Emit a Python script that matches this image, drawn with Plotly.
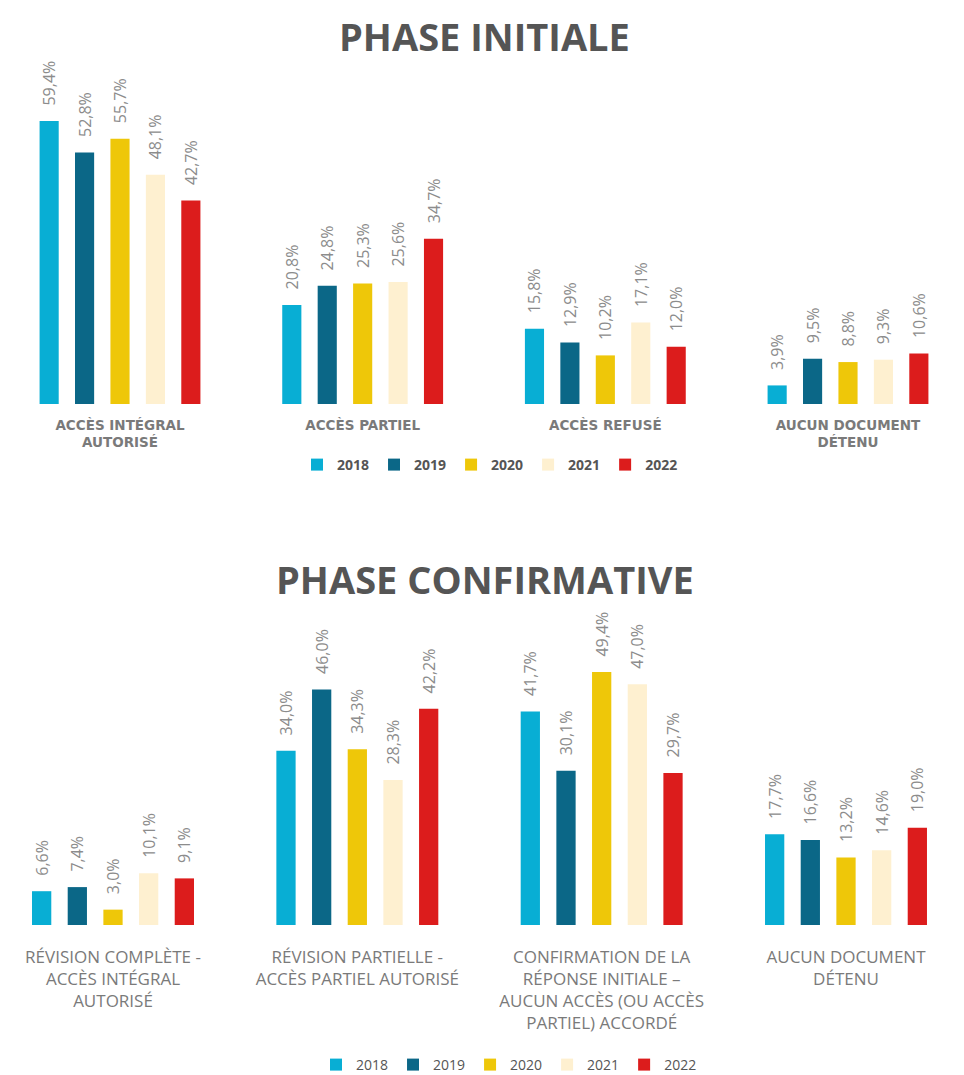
import plotly.graph_objects as go

years = ["2018", "2019", "2020", "2021", "2022"]
colors = ["#08AED4", "#0B6787", "#EEC709", "#FEF0D0", "#DC1C1C"]

cat_init = ["ACCÈS INTÉGRAL<br>AUTORISÉ", "ACCÈS PARTIEL", "ACCÈS REFUSÉ", "AUCUN DOCUMENT<br>DÉTENU"]
vals_init = {
    "2018": [59.4, 20.8, 15.8, 3.9],
    "2019": [52.8, 24.8, 12.9, 9.5],
    "2020": [55.7, 25.3, 10.2, 8.8],
    "2021": [48.1, 25.6, 17.1, 9.3],
    "2022": [42.7, 34.7, 12.0, 10.6],
}

cat_conf = ["RÉVISION COMPLÈTE -<br>ACCÈS INTÉGRAL<br>AUTORISÉ",
            "RÉVISION PARTIELLE -<br>ACCÈS PARTIEL AUTORISÉ",
            "CONFIRMATION DE LA<br>RÉPONSE INITIALE –<br>AUCUN ACCÈS (OU ACCÈS<br>PARTIEL) ACCORDÉ",
            "AUCUN DOCUMENT<br>DÉTENU"]
vals_conf = {
    "2018": [6.6, 34.0, 41.7, 17.7],
    "2019": [7.4, 46.0, 30.1, 16.6],
    "2020": [3.0, 34.3, 49.4, 13.2],
    "2021": [10.1, 28.3, 47.0, 14.6],
    "2022": [9.1, 42.2, 29.7, 19.0],
}

W, H = 964, 1075
OFF = 8  # page body margin

def fmt(v):
    return "\u00a0\u00a0\u00a0" + f"{v:.1f}".replace(".", ",") + "%"

fig = go.Figure()
for yr, col in zip(years, colors):
    fig.add_trace(go.Bar(
        x=cat_init, y=vals_init[yr], name=yr, marker=dict(color=col, line=dict(width=0)),
        text=[fmt(v) for v in vals_init[yr]], textposition="outside", textangle=-90,
        constraintext="none", cliponaxis=False,
        textfont=dict(family="Open Sans", size=16, color="#8c8c8c"),
        xaxis="x", yaxis="y", legend="legend", offsetgroup=yr,
    ))
for yr, col in zip(years, colors):
    fig.add_trace(go.Bar(
        x=cat_conf, y=vals_conf[yr], name=yr, marker=dict(color=col, line=dict(width=0)),
        text=[fmt(v) for v in vals_conf[yr]], textposition="outside", textangle=-90,
        constraintext="none", cliponaxis=False,
        textfont=dict(family="Open Sans", size=16, color="#8c8c8c"),
        xaxis="x2", yaxis="y2", legend="legend2", offsetgroup=yr,
    ))

def py(pix):
    return 1 - (pix - OFF) / H

def px_(pix):
    return (pix - OFF) / W

top_base, top_top = 404, 50
bot_base, bot_top = 925, 600
top_scale = (404 - 121) / 59.4
bot_scale = (925 - 672) / 49.4

def xrange(c0, c3):
    unit = (c3 - c0) / 3
    lo = -(c0 - OFF) / unit
    return [lo, lo + W / unit]

fig.update_layout(
    width=W, height=H,
    margin=dict(l=0, r=0, t=0, b=0, autoexpand=False),
    paper_bgcolor="white", plot_bgcolor="white",
    barmode="group", bargap=0.27, bargroupgap=0.46,
    xaxis=dict(domain=[0, 1], anchor="y", showline=False, showgrid=False, ticks="",
               automargin=False, range=xrange(120, 848),
               tickfont=dict(family="DejaVu Sans", size=13.5, color="#7a7a7a", weight="bold"),
               ticklabelstandoff=11),
    yaxis=dict(domain=[py(top_base), py(top_top)], range=[0, (top_base - top_top) / top_scale],
               visible=False, showgrid=False, zeroline=False, automargin=False),
    xaxis2=dict(domain=[0, 1], anchor="y2", showline=False, showgrid=False, ticks="",
                automargin=False, range=xrange(113, 846),
                tickfont=dict(family="Open Sans", size=17, color="#7a7a7a"),
                ticklabelstandoff=20),
    yaxis2=dict(domain=[py(bot_base), py(bot_top)], range=[0, (bot_base - bot_top) / bot_scale],
                visible=False, showgrid=False, zeroline=False, automargin=False),
    legend=dict(orientation="h", x=px_(490), xanchor="center", y=py(465), yanchor="middle",
                font=dict(family="Open Sans", size=14, color="#555555", weight="bold"),
                itemwidth=30, traceorder="normal", tracegroupgap=0),
    legend2=dict(orientation="h", x=px_(509), xanchor="center", y=py(1065), yanchor="middle",
                 font=dict(family="Open Sans", size=14, color="#555555"),
                 itemwidth=30, traceorder="normal", tracegroupgap=0),
    annotations=[
        dict(text="<b>PHASE INITIALE</b>", x=px_(484), y=1, xref="paper", yref="paper",
             showarrow=False, font=dict(family="Open Sans", size=38, color="#555555"),
             xanchor="center", yanchor="top"),
        dict(text="<b>PHASE CONFIRMATIVE</b>", x=px_(485), y=py(579), xref="paper", yref="paper",
             showarrow=False, font=dict(family="Open Sans", size=38, color="#555555"),
             xanchor="center", yanchor="middle"),
    ],
)

fig.write_html("out.html")
